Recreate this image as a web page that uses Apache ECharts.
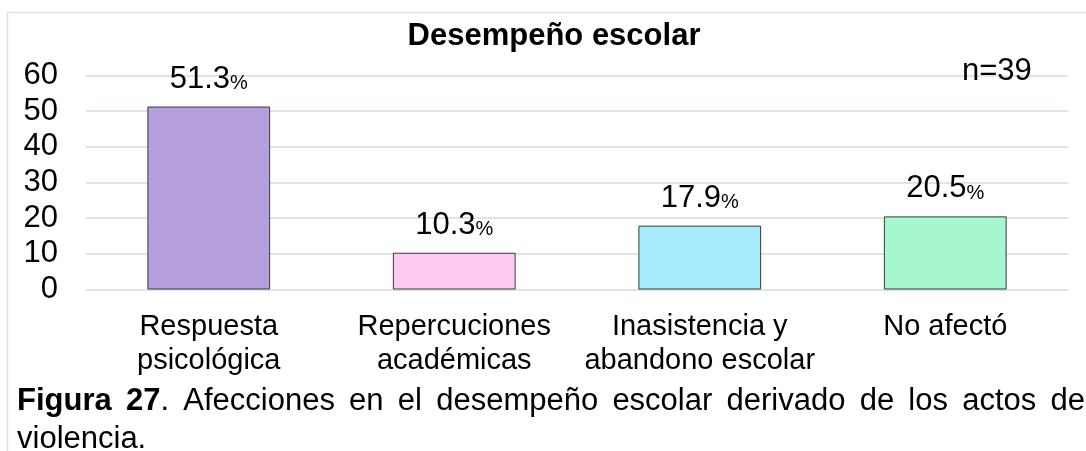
<!DOCTYPE html>
<html>
<head>
<meta charset="utf-8">
<script src="https://cdn.jsdelivr.net/npm/echarts@6/dist/echarts.min.js"></script>
<style>
html,body{margin:0;padding:0;background:#fff;}
#c{width:1086px;height:451px;}
</style>
</head>
<body>
<div id="c"></div>
<script>
// ---- data ----
const categories = ['Respuesta\npsicológica', 'Repercuciones\nacadémicas', 'Inasistencia y\nabandono escolar', 'No afectó'];
const values = [51.3, 10.3, 17.9, 20.5];
const yTicks = [0, 10, 20, 30, 40, 50, 60];
const chartTitle = 'Desempeño escolar';
const sampleNote = 'n=39';
const captionBold = 'Figura 27';
const captionLine1 = '. Afecciones en el desempeño escolar derivado de los actos de';
const captionLine2 = 'violencia.';

// ---- style ----
const barColors = ['#b49edc', '#fccaf0', '#a6ecfd', '#a6f6cf'];
const FONT = '"Liberation Sans", Arial, sans-serif';

const chart = echarts.init(document.getElementById('c'), null, {renderer: 'canvas'});

// Justified caption line built from words
const ctx = document.createElement('canvas').getContext('2d');
function measure(text, bold, size) {
  ctx.font = (bold ? 'bold ' : '') + size + 'px ' + FONT;
  return ctx.measureText(text).width;
}
const capSize = 31;
const boldParts = captionBold.split(' ');
const words = [
  [{t: boldParts[0], b: true}],
  [{t: boldParts[1], b: true}, {t: '.', b: false}]
].concat(captionLine1.slice(2).split(' ').map(w => [{t: w, b: false}]));
const capLeft = 17, capRight = 1085;
const wordWidths = words.map(w => w.reduce((s, p) => s + measure(p.t, p.b, capSize), 0));
const totalW = wordWidths.reduce((a, b) => a + b, 0);
const gap = (capRight - capLeft - totalW) / (words.length - 1);
const captionEls = [];
let cx = capLeft;
words.forEach((w, i) => {
  let px = cx;
  w.forEach(p => {
    captionEls.push({
      type: 'text', x: px, y: 417, z: 100,
      style: {text: p.t, font: (p.b ? 'bold ' : '') + capSize + 'px ' + FONT, fill: '#000', textVerticalAlign: 'bottom'}
    });
    px += measure(p.t, p.b, capSize);
  });
  cx += wordWidths[i] + gap;
});
captionEls.push({
  type: 'text', x: capLeft, y: 455, z: 100,
  style: {text: captionLine2, font: capSize + 'px ' + FONT, fill: '#000', textVerticalAlign: 'bottom'}
});

const option = {
  animation: false,
  backgroundColor: '#fff',
  grid: {left: 86, right: 18, top: 75.5, bottom: 161.5, containLabel: false},
  xAxis: {
    type: 'category',
    data: categories,
    axisLine: {show: false},
    axisTick: {show: false},
    axisLabel: {
      color: '#000', fontSize: 29, lineHeight: 34, fontFamily: FONT, margin: 20, interval: 0
    }
  },
  yAxis: {
    type: 'value',
    min: yTicks[0], max: yTicks[yTicks.length - 1], interval: 10,
    axisLine: {show: false},
    axisTick: {show: false},
    axisLabel: {color: '#000', fontSize: 31, fontFamily: FONT, margin: 28},
    splitLine: {lineStyle: {color: '#dfe3ea', width: 2}}
  },
  series: [{
    type: 'bar',
    barWidth: '50%',
    data: values.map((v, i) => ({
      value: v,
      itemStyle: {color: barColors[i], borderColor: '#3a3a3a', borderWidth: 1}
    })),
    label: {
      show: true,
      position: 'top',
      distance: 12,
      formatter: p => '{v|' + p.value.toFixed(1) + '}{p|%}',
      rich: {
        v: {fontSize: 31, color: '#000', fontFamily: FONT, lineHeight: 31},
        p: {fontSize: 20, color: '#000', fontFamily: FONT, lineHeight: 31, verticalAlign: 'bottom', padding: [0, 0, 1, 0]}
      }
    }
  }],
  graphic: [
    {type: 'rect', z: -1, shape: {x: 7.5, y: 12.5, width: 1100, height: 500},
     style: {fill: 'none', stroke: '#dde2ea', lineWidth: 1.5}},
    {type: 'text', x: 554, y: 52, z: 100,
     style: {text: chartTitle, font: 'bold 31px ' + FONT, fill: '#000', textAlign: 'center', textVerticalAlign: 'bottom'}},
    {type: 'text', x: 962, y: 87, z: 100,
     style: {text: sampleNote, font: '31px ' + FONT, fill: '#000', textAlign: 'left', textVerticalAlign: 'bottom'}}
  ].concat(captionEls)
};
chart.setOption(option);
</script>
</body>
</html>
